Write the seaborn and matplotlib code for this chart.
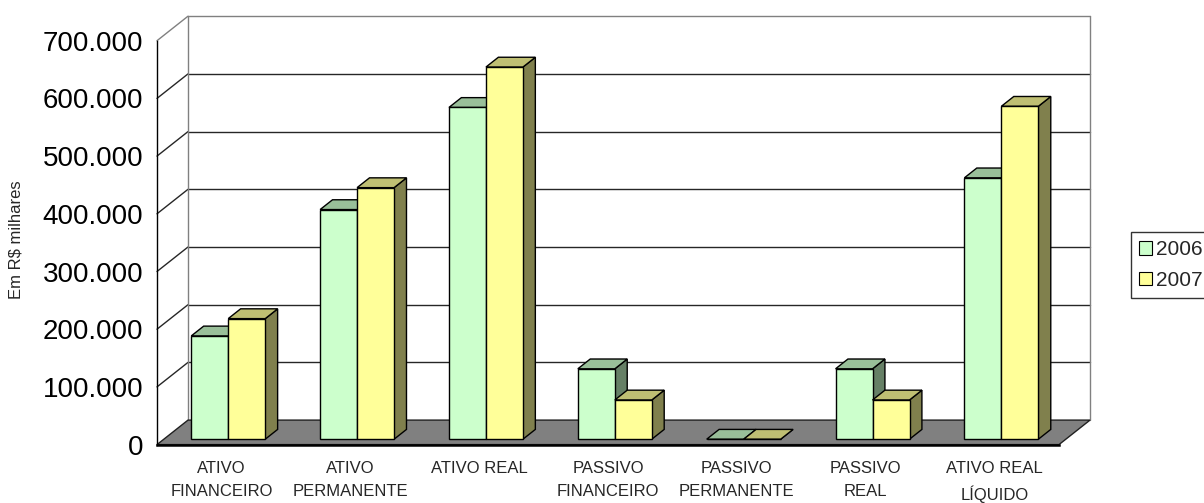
import matplotlib
matplotlib.use("Agg")
import matplotlib.pyplot as plt
import matplotlib.transforms as mtransforms
import matplotlib.colors as mcolors
from matplotlib.patches import Polygon, Patch
import numpy as np
import pandas as pd
import seaborn as sns


# -------------------------
# DATA
# -------------------------
categories = [
    "ATIVO\nFINANCEIRO",
    "ATIVO\nPERMANENTE",
    "ATIVO REAL",
    "PASSIVO\nFINANCEIRO",
    "PASSIVO\nPERMANENTE",
    "PASSIVO\nREAL",
    "ATIVO REAL\nLÍQUIDO",
]
years = ["2006", "2007"]
values_2006 = [179000, 398000, 575000, 122000, 0, 122000, 453000]
values_2007 = [209000, 436000, 645000, 68000, 0, 68000, 577000]
yticks = [0, 100000, 200000, 300000, 400000, 500000, 600000, 700000]
colors = {"2006": "#CCFFCC", "2007": "#FFFF99"}

# pseudo 3d depth (pixels, right / up) and where the bars sit in it
DEPTH = np.array([31.0, 24.5])
BAR_FRONT = 0.22
BAR_BACK = 0.62

NARROW = ["Liberation Sans Narrow", "Liberation Sans", "DejaVu Sans"]


def shade(c, f):
    r, g, b = mcolors.to_rgb(c)
    return (r * f, g * f, b * f)


# -------------------------
# BUILD FIGURE
# -------------------------
sns.set_style("white")
plt.rcParams["font.family"] = ["Liberation Sans", "DejaVu Sans"]

df = pd.DataFrame({
    "categoria": categories * 2,
    "ano": [years[0]] * len(categories) + [years[1]] * len(categories),
    "valor": values_2006 + values_2007,
})

fig = plt.figure(figsize=(12.04, 5.03), dpi=100)
W, H = 1204, 503
ax = fig.add_axes([157 / W, (H - 444.6) / H, 902 / W, 403.9 / H])

sns.barplot(data=df, x="categoria", y="valor", hue="ano", palette=colors,
            saturation=1, width=0.574, gap=0, edgecolor="black",
            linewidth=1, legend=False, ax=ax)

ax.set_xlim(-0.5, len(categories) - 0.5)
ax.set_ylim(0, yticks[-1])
ax.set_xlabel("")
for s in ["top", "right"]:
    ax.spines[s].set_visible(False)
ax.spines["left"].set_color("black")
ax.spines["left"].set_linewidth(1)
ax.spines["bottom"].set_color("black")
ax.spines["bottom"].set_linewidth(1.8)
ax.spines["bottom"].set_zorder(2.6)

to_disp = ax.transData.transform
ident = mtransforms.IdentityTransform()
x0, x1 = -0.5, len(categories) - 0.5

# -------------------------
# WALLS AND FLOOR
# -------------------------
back = mtransforms.ScaledTranslation(DEPTH[0] / fig.dpi, DEPTH[1] / fig.dpi,
                                     fig.dpi_scale_trans)
for v in yticks[1:]:
    lc = "#808080" if v == yticks[-1] else "#262626"
    ax.plot([x0, x1], [v, v], transform=ax.transData + back, color=lc,
            lw=1, zorder=1, clip_on=False)
    p = to_disp((x0, v))
    q = p + DEPTH
    ax.plot([p[0], q[0]], [p[1], q[1]], transform=ident, color=lc,
            lw=1, zorder=1, clip_on=False)
for xx in [x0, x1]:
    ax.plot([xx, xx], [0, yticks[-1]], transform=ax.transData + back,
            color="#808080", lw=1, zorder=1, clip_on=False)

fl = [to_disp((x0, 0)), to_disp((x1, 0))]
fl = fl + [fl[1] + DEPTH, fl[0] + DEPTH]
ax.add_patch(Polygon(fl, closed=True, transform=ident, facecolor="#808080",
                     edgecolor="#202020", lw=1, zorder=1.5, clip_on=False))

# -------------------------
# 3D BARS
# -------------------------
front = mtransforms.ScaledTranslation(BAR_FRONT * DEPTH[0] / fig.dpi,
                                      BAR_FRONT * DEPTH[1] / fig.dpi,
                                      fig.dpi_scale_trans)
off = BAR_FRONT * DEPTH
bd = (BAR_BACK - BAR_FRONT) * DEPTH
for k, (year, cont) in enumerate(zip(years, ax.containers)):
    base = colors[year]
    z = 3 + k
    for rect in cont.patches:
        bx, bw, bh = rect.get_x(), rect.get_width(), rect.get_height()
        rect.set_transform(ax.transData + front)
        rect.set_zorder(z + 0.2)
        rect.set_clip_on(False)
        tl = to_disp((bx, bh)) + off
        tr = to_disp((bx + bw, bh)) + off
        br = to_disp((bx + bw, 0)) + off
        top = [tl, tr, tr + bd, tl + bd]
        side = [br, tr, tr + bd, br + bd]
        ax.add_patch(Polygon(side, closed=True, transform=ident,
                             facecolor=shade(base, 0.5), edgecolor="black",
                             lw=1, zorder=z, clip_on=False))
        ax.add_patch(Polygon(top, closed=True, transform=ident,
                             facecolor=shade(base, 0.75), edgecolor="black",
                             lw=1, zorder=z + 0.1, clip_on=False))

# -------------------------
# TICKS, LABELS, LEGEND
# -------------------------
ax.set_yticks(yticks)
ax.set_yticklabels([f"{v:,}".replace(",", ".") for v in yticks])
ax.tick_params(axis="y", length=6, width=1, pad=4, labelsize=20,
               colors="black")
ax.set_xticks(range(len(categories)))
ax.set_xticklabels(categories, fontfamily=NARROW, fontsize=12,
                   linespacing=1.65, va="top")
ax.set_xticks(np.arange(x0, x1 + 0.01, 1), minor=True)
ax.tick_params(axis="x", which="major", length=0, pad=12)
ax.tick_params(axis="x", which="minor", length=6, width=1, color="black")

ax.set_ylabel("")
fig.text(16 / W, 1 - 240 / H, "Em R$ milhares", rotation=90,
         ha="center", va="center", fontfamily=NARROW, fontsize=12)

leg = fig.legend(handles=[Patch(facecolor=colors[y], edgecolor="black",
                                lw=0.8, label=y) for y in years],
                 loc="upper left", bbox_to_anchor=(1131 / W, 1 - 232 / H),
                 bbox_transform=fig.transFigure, frameon=True,
                 fancybox=False, fontsize=15, handlelength=0.6,
                 handleheight=0.6, handletextpad=0.2, labelspacing=0.55,
                 borderpad=0.4, borderaxespad=0)
leg.get_frame().set_edgecolor("black")
leg.get_frame().set_linewidth(1)

fig.savefig("out.png", dpi=100)
